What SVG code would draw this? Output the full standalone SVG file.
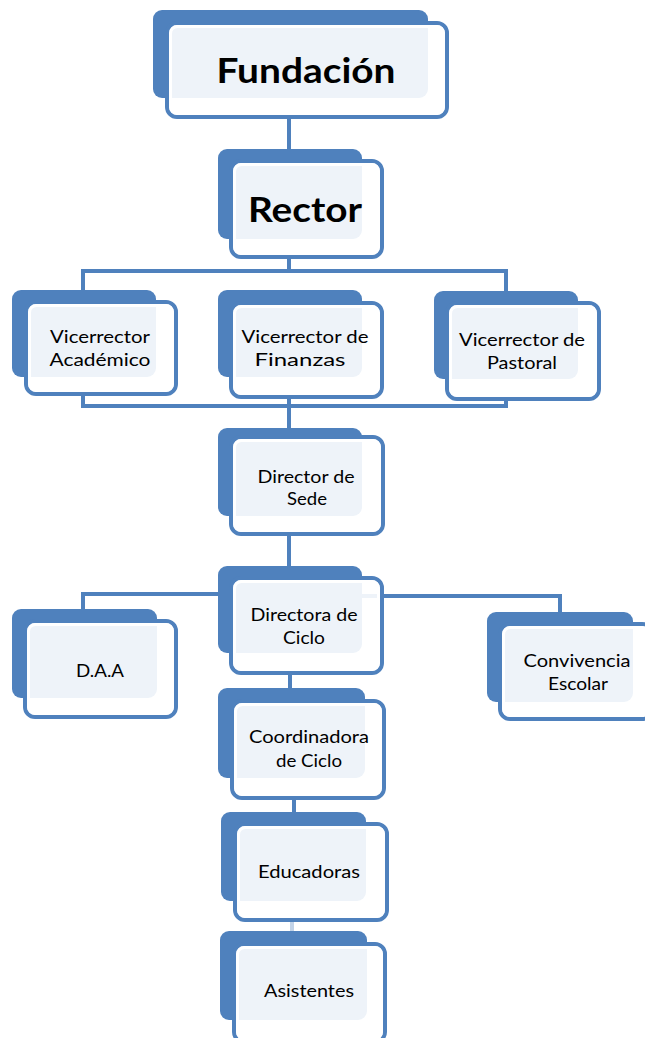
<svg xmlns="http://www.w3.org/2000/svg" width="645" height="1038" viewBox="0 0 645 1038">
  <style>
    .bg { fill: #ffffff; }
    .back { fill: #4F81BD; }
    .front { fill: #ffffff; fill-opacity: 0.9; stroke: #4F81BD; stroke-width: 4; }
    .band { fill: none; stroke: #ffffff; stroke-width: 3; }
    .link { fill: none; stroke: #4F81BD; stroke-width: 4; }
    .faint { stroke-opacity: 0.35; }
    text { font-family: "Lato", "Liberation Sans", sans-serif; fill: #000000; text-anchor: middle; }
    .big { font-size: 35px; font-weight: bold; }
    .lbl { font-size: 17px; }
  </style>

  <rect class="bg" x="0" y="0" width="645" height="1038"/>

  <!-- connectors sit underneath the boxes -->
  <g id="connectors">
    <path class="link" d="M289 117 V160"/>
    <path class="link" d="M289 256 V271"/>
    <path class="link" d="M83 292 V271 H506 V293"/>
    <path class="link" d="M83 394 V406 H506 V400"/>
    <path class="link" d="M289 396 V430"/>
    <path class="link" d="M289 535 V568"/>
    <path class="link" d="M289 594 H83 V610"/>
    <path class="link" d="M289 596 H560 V613"/>
    <path class="link" d="M290 673 V689"/>
    <path class="link" d="M294 799 V813"/>
    <path class="link faint" d="M292 920 V932"/>
  </g>

  <g id="fundacion">
    <rect class="back" x="153" y="10" width="275" height="88" rx="9"/>
    <rect class="front" x="167" y="23" width="280" height="94" rx="10"/>
    <rect class="band" x="170.5" y="26.5" width="273" height="87" rx="7"/>
    <text class="big" x="306" y="83" textLength="179" lengthAdjust="spacingAndGlyphs">Fundación</text>
  </g>

  <g id="rector">
    <rect class="back" x="218" y="149" width="144" height="90" rx="9"/>
    <rect class="front" x="231" y="161" width="151" height="96" rx="10"/>
    <rect class="band" x="234.5" y="164.5" width="144" height="89" rx="7"/>
    <text class="big" x="305" y="222" textLength="114" lengthAdjust="spacingAndGlyphs">Rector</text>
  </g>

  <g id="vr-academico">
    <rect class="back" x="12" y="290" width="144" height="87" rx="9"/>
    <rect class="front" x="26" y="302" width="150" height="92" rx="10"/>
    <rect class="band" x="29.5" y="305.5" width="143" height="85" rx="7"/>
    <text class="lbl" x="100" y="343" textLength="100" lengthAdjust="spacingAndGlyphs">Vicerrector</text>
    <text class="lbl" x="100" y="366" textLength="101" lengthAdjust="spacingAndGlyphs">Académico</text>
  </g>

  <g id="vr-finanzas">
    <rect class="back" x="218" y="290" width="144" height="87" rx="9"/>
    <rect class="front" x="231" y="303" width="151" height="94" rx="10"/>
    <rect class="band" x="234.5" y="306.5" width="144" height="87" rx="7"/>
    <text class="lbl" x="305" y="343" textLength="127" lengthAdjust="spacingAndGlyphs">Vicerrector de</text>
    <text class="lbl" x="300" y="366" textLength="91" lengthAdjust="spacingAndGlyphs">Finanzas</text>
  </g>

  <g id="vr-pastoral">
    <rect class="back" x="434" y="291" width="144" height="88" rx="9"/>
    <rect class="front" x="447" y="303" width="152" height="96" rx="10"/>
    <rect class="band" x="450.5" y="306.5" width="145" height="89" rx="7"/>
    <text class="lbl" x="522" y="346" textLength="126" lengthAdjust="spacingAndGlyphs">Vicerrector de</text>
    <text class="lbl" x="522" y="369" textLength="70" lengthAdjust="spacingAndGlyphs">Pastoral</text>
  </g>

  <g id="director-sede">
    <rect class="back" x="218" y="428" width="144" height="88" rx="9"/>
    <rect class="front" x="231" y="437" width="152" height="97" rx="10"/>
    <rect class="band" x="234.5" y="440.5" width="145" height="90" rx="7"/>
    <text class="lbl" x="306" y="483" textLength="97" lengthAdjust="spacingAndGlyphs">Director de</text>
    <text class="lbl" x="307" y="505" textLength="40" lengthAdjust="spacingAndGlyphs">Sede</text>
  </g>

  <g id="directora-ciclo">
    <rect class="back" x="218" y="566" width="144" height="87" rx="9"/>
    <rect class="front" x="231" y="578" width="151" height="95" rx="10"/>
    <rect class="band" x="234.5" y="581.5" width="144" height="88" rx="7"/>
    <text class="lbl" x="304" y="621" textLength="107" lengthAdjust="spacingAndGlyphs">Directora de</text>
    <text class="lbl" x="304" y="644" textLength="42" lengthAdjust="spacingAndGlyphs">Ciclo</text>
  </g>

  <g id="daa">
    <rect class="back" x="12" y="609" width="145" height="89" rx="9"/>
    <rect class="front" x="25" y="621" width="151" height="96" rx="10"/>
    <rect class="band" x="28.5" y="624.5" width="144" height="89" rx="7"/>
    <text class="lbl" x="100" y="677" textLength="48" lengthAdjust="spacingAndGlyphs">D.A.A</text>
  </g>

  <g id="convivencia">
    <rect class="back" x="487" y="612" width="146" height="90" rx="9"/>
    <rect class="front" x="500" y="624" width="152" height="95" rx="10"/>
    <rect class="band" x="503.5" y="627.5" width="145" height="88" rx="7"/>
    <text class="lbl" x="577" y="667" textLength="107" lengthAdjust="spacingAndGlyphs">Convivencia</text>
    <text class="lbl" x="578" y="690" textLength="60" lengthAdjust="spacingAndGlyphs">Escolar</text>
  </g>

  <g id="coordinadora-ciclo">
    <rect class="back" x="218" y="688" width="147" height="90" rx="9"/>
    <rect class="front" x="232" y="701" width="152" height="97" rx="10"/>
    <rect class="band" x="235.5" y="704.5" width="145" height="90" rx="7"/>
    <text class="lbl" x="309" y="743" textLength="120" lengthAdjust="spacingAndGlyphs">Coordinadora</text>
    <text class="lbl" x="309" y="767" textLength="66" lengthAdjust="spacingAndGlyphs">de Ciclo</text>
  </g>

  <g id="educadoras">
    <rect class="back" x="221" y="812" width="145" height="89" rx="9"/>
    <rect class="front" x="235" y="824" width="152" height="96" rx="10"/>
    <rect class="band" x="238.5" y="827.5" width="145" height="89" rx="7"/>
    <text class="lbl" x="309" y="878" textLength="102" lengthAdjust="spacingAndGlyphs">Educadoras</text>
  </g>

  <g id="asistentes">
    <rect class="back" x="220" y="931" width="147" height="89" rx="9"/>
    <rect class="front" x="234" y="944" width="151" height="98" rx="10"/>
    <rect class="band" x="237.5" y="947.5" width="144" height="91" rx="7"/>
    <text class="lbl" x="309" y="997" textLength="90" lengthAdjust="spacingAndGlyphs">Asistentes</text>
  </g>
</svg>
